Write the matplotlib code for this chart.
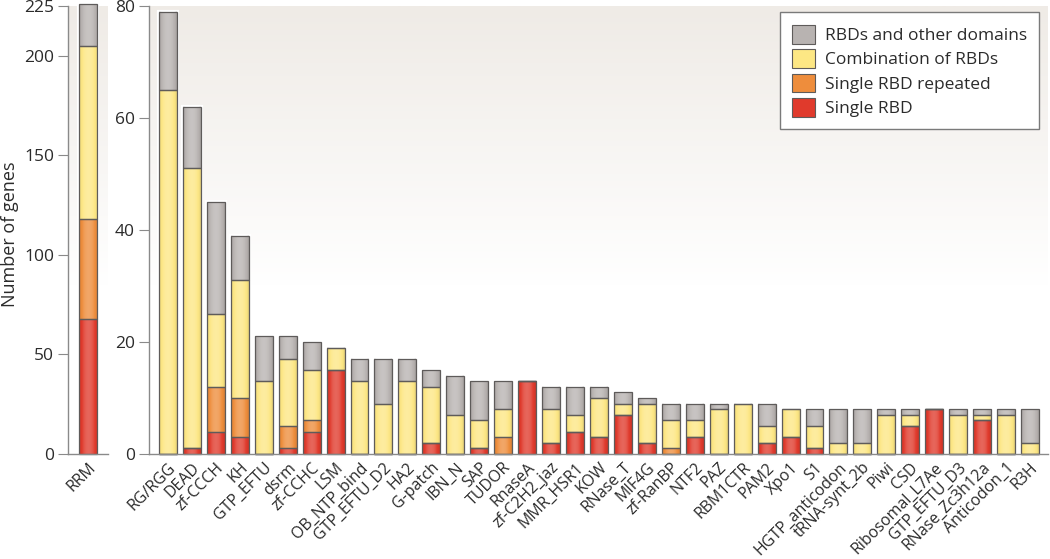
import numpy as np
import matplotlib
matplotlib.use('Agg')
import matplotlib.pyplot as plt
from matplotlib.patches import Patch
from matplotlib.colors import LinearSegmentedColormap

plt.rcParams['font.family'] = ['Open Sans', 'DejaVu Sans']

# Left panel: RRM
rrm_single = [68]
rrm_repeated = [50]
rrm_combo = [87]
rrm_other = [21]

# Right panel
categories = ['RG/RGG', 'DEAD', 'zf-CCCH', 'KH', 'GTP_EFTU', 'dsrm', 'zf-CCHC', 'LSM',
              'OB_NTP_bind', 'GTP_EFTU_D2', 'HA2', 'G-patch', 'IBN_N', 'SAP', 'TUDOR',
              'RnaseA', 'zf-C2H2_jaz', 'MMR_HSR1', 'KOW', 'RNase_T', 'MIF4G', 'zf-RanBP',
              'NTF2', 'PAZ', 'RBM1CTR', 'PAM2', 'Xpo1', 'S1', 'HGTP_anticodon',
              'tRNA-synt_2b', 'Piwi', 'CSD', 'Ribosomal_L7Ae', 'GTP_EFTU_D3',
              'RNase_Zc3h12a', 'Anticodon_1', 'R3H']
single = [0, 1, 4, 3, 0, 1, 4, 15, 0, 0, 0, 2, 0, 1, 0, 13, 2, 4, 3, 7, 2, 0, 3, 0, 0,
          2, 3, 1, 0, 0, 0, 5, 8, 0, 6, 0, 0]
repeated = [0, 0, 8, 7, 0, 4, 2, 0, 0, 0, 0, 0, 0, 0, 3, 0, 0, 0, 0, 0, 0, 1, 0, 0, 0,
            0, 0, 0, 0, 0, 0, 0, 0, 0, 0, 0, 0]
combo = [65, 50, 13, 21, 13, 12, 9, 4, 13, 9, 13, 10, 7, 5, 5, 0, 6, 3, 7, 2, 7, 5, 3, 8, 9,
         3, 5, 4, 2, 2, 7, 2, 0, 7, 1, 7, 2]
other = [14, 11, 20, 8, 8, 4, 5, 0, 4, 8, 4, 3, 7, 7, 5, 0, 4, 5, 2, 2, 1, 3, 3, 1, 0,
         4, 0, 3, 6, 6, 1, 1, 0, 1, 1, 1, 6]

series_names = ['Single RBD', 'Single RBD repeated', 'Combination of RBDs',
                'RBDs and other domains']
colors = ['#e03a2c', '#ee8d3c', '#fde784', '#b8b3b1']
edge = '#5e5b5a'
text_c = '#2b2b2b'
spine_c = '#8a8a8a'
width = 0.75

fig = plt.figure(figsize=(10.5, 5.59), dpi=100)
ax1 = fig.add_axes([68 / 1050, 1 - 454 / 559, 40 / 1050, 448 / 559])
ax2 = fig.add_axes([149 / 1050, 1 - 454 / 559, 899 / 1050, 448 / 559])

# soft background gradient (white top -> warm grey bottom)
grad = np.clip(np.linspace(0, 1, 256).reshape(-1, 1) * 1.6, 0, 1)
bg_cmap = LinearSegmentedColormap.from_list('bg', ['#ffffff', '#efebe6'])
for ax in (ax1, ax2):
    ax.imshow(1 - grad, cmap=bg_cmap, aspect='auto', extent=[0, 1, 0, 1],
              transform=ax.transAxes, zorder=0, vmin=0, vmax=1)

# horizontal shading profile for the "cylinder" look of the bars
prof = np.linspace(-1, 1, 64)
shade = np.zeros((1, 64, 4))
light = np.clip(1 - prof ** 2, 0, 1)
shade[0, :, :3] = np.where(light[:, None] > 0.5, 1.0, 0.0)
shade[0, :, 3] = np.where(light > 0.5, (light - 0.5) * 0.45, (0.5 - light) * 0.2)


def stacked(ax, x, layers):
    bottom = np.zeros(len(x))
    for vals, col in zip(layers, colors):
        vals = np.asarray(vals, dtype=float)
        ax.bar(x, vals, width, bottom=bottom, color='none', edgecolor='white',
               linewidth=3, zorder=2, clip_on=False)
        ax.bar(x, vals, width, bottom=bottom, color=col, linewidth=0,
               zorder=3, clip_on=False)
        bottom += vals
    for xi, top in zip(x, bottom):
        ax.imshow(shade, aspect='auto', extent=[xi - width / 2, xi + width / 2, 0, top],
                  zorder=4, clip_on=False, interpolation='bilinear')
    bottom = np.zeros(len(x))
    for vals in layers:
        vals = np.asarray(vals, dtype=float)
        ax.bar(x, vals, width, bottom=bottom, color='none', edgecolor=edge,
               linewidth=0.9, zorder=5, clip_on=False)
        bottom += vals


stacked(ax1, [0], [rrm_single, rrm_repeated, rrm_combo, rrm_other])
ax1.set_xlim(-0.83, 0.83)
ax1.set_ylim(0, 225)
ax1.set_yticks([0, 50, 100, 150, 200, 225])
ax1.set_xticks([0])
ax1.set_xticklabels(['RRM'])
ax1.set_ylabel('Number of genes', fontsize=13, color=text_c)
ax1.yaxis.set_label_coords(-1.22, 0.49)

x = np.arange(len(categories))
stacked(ax2, x, [single, repeated, combo, other])
ax2.set_xlim(-0.79, 36.75)
ax2.set_ylim(0, 80)
ax2.set_yticks([0, 20, 40, 60, 80])
ax2.set_xticks(x)
ax2.set_xticklabels(categories)

for ax in (ax1, ax2):
    for s in ('top', 'right'):
        ax.spines[s].set_visible(False)
    for s in ('left', 'bottom'):
        ax.spines[s].set_color(spine_c)
        ax.spines[s].set_linewidth(1.0)
        ax.spines[s].set_zorder(6)
    ax.tick_params(axis='y', direction='out', length=7, color=spine_c,
                   labelsize=12.5, labelcolor=text_c, pad=3)
    ax.tick_params(axis='x', length=0, labelsize=11.5, labelcolor=text_c, pad=4)
    for lbl in ax.get_xticklabels():
        lbl.set_rotation(45)
        lbl.set_ha('right')
        lbl.set_rotation_mode('anchor')

handles = [Patch(facecolor=c, edgecolor=edge, linewidth=0.8) for c in colors[::-1]]
leg = ax2.legend(handles, series_names[::-1], loc='upper right',
                 bbox_to_anchor=(1.0, 1.005), fontsize=12.5, frameon=True,
                 fancybox=False, edgecolor='#7a7a7a', handlelength=1.3,
                 handleheight=1.3, borderpad=0.7, labelspacing=0.3,
                 handletextpad=0.6, framealpha=1)
leg.get_frame().set_linewidth(1.0)
leg.set_zorder(10)
for t in leg.get_texts():
    t.set_color(text_c)

fig.savefig('out.png', dpi=100)
